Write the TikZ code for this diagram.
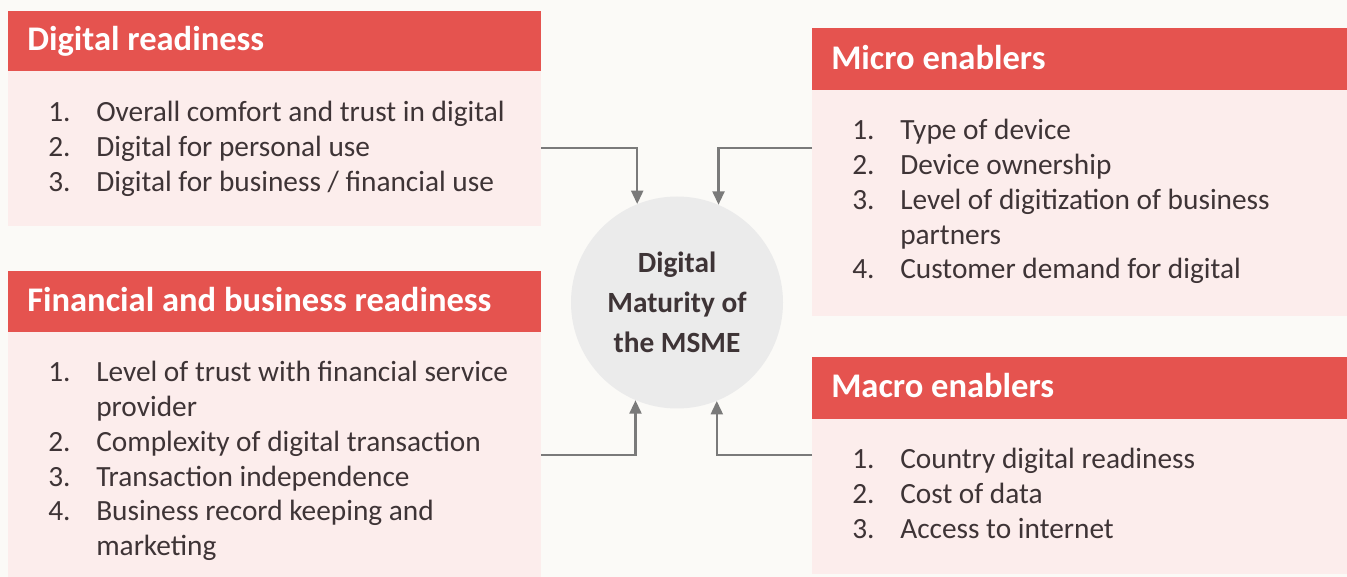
\documentclass[tikz,border=0pt]{standalone}
\usepackage{fontspec}
\setmainfont{Carlito}
\usetikzlibrary{arrows.meta}
\definecolor{bgc}{HTML}{FBFAF7}
\definecolor{hdrc}{HTML}{E5534F}
\definecolor{bodyc}{HTML}{FCEDEC}
\definecolor{txtc}{HTML}{3E3436}
\definecolor{circc}{HTML}{EBEBEB}
\definecolor{connc}{HTML}{7A7A7A}
\begin{document}
\begin{tikzpicture}[x=0.75pt,y=-0.75pt,
  hdrbox/.style={rectangle,fill=hdrc,draw=none,anchor=north west,inner sep=0pt},
  bodybox/.style={rectangle,fill=bodyc,draw=none,anchor=north west,inner sep=0pt},
  title/.style={anchor=base west,inner sep=0pt,text=white,font=\fontsize{25.9}{30}\selectfont\bfseries},
  item/.style={anchor=base west,inner sep=0pt,text=txtc,font=\fontsize{22}{26}\selectfont},
  conn/.style={draw=connc,line width=1.6pt,-{Triangle[width=9pt,length=10pt]}}
]
\useasboundingbox[fill=bgc] (0,0) rectangle (1347,577);

% Box 1
\node[hdrbox,minimum width=399.75pt,minimum height=45pt] (h1) at (8,11) {};
\node[bodybox,minimum width=399.75pt,minimum height=116.25pt] (b1) at (8,71) {};
\node[title] (t1) at (27,51) {Digital readiness};
\node[item] (n1a) at (48,122) {1.};
\node[item] (i1a) at (96,122) {Overall comfort and trust in digital};
\node[item] (n1b) at (48,156.7) {2.};
\node[item] (i1b) at (96,156.7) {Digital for personal use};
\node[item] (n1c) at (48,191.4) {3.};
\node[item] (i1c) at (96,191.4) {Digital for business / financial use};

% Box 2
\node[hdrbox,minimum width=399.75pt,minimum height=45.75pt] (h2) at (8,271) {};
\node[bodybox,minimum width=399.75pt,minimum height=183.75pt] (b2) at (8,332) {};
\node[title] (t2) at (27,312) {Financial and business readiness};
\node[item] (n2a) at (48,382) {1.};
\node[item] (i2a) at (96,382) {Level of trust with financial service};
\node[item] (i2a2) at (96,416.7) {provider};
\node[item] (n2b) at (48,451.4) {2.};
\node[item] (i2b) at (96,451.4) {Complexity of digital transaction};
\node[item] (n2c) at (48,486.1) {3.};
\node[item] (i2c) at (96,486.1) {Transaction independence};
\node[item] (n2d) at (48,520.8) {4.};
\node[item] (i2d) at (96,520.8) {Business record keeping and};
\node[item] (i2d2) at (96,555.5) {marketing};

% Box 3
\node[hdrbox,minimum width=401.25pt,minimum height=46.5pt] (h3) at (812,28) {};
\node[bodybox,minimum width=401.25pt,minimum height=169.5pt] (b3) at (812,90) {};
\node[title] (t3) at (831,70) {Micro enablers};
\node[item] (n3a) at (852,140) {1.};
\node[item] (i3a) at (900,140) {Type of device};
\node[item] (n3b) at (852,174.7) {2.};
\node[item] (i3b) at (900,174.7) {Device ownership};
\node[item] (n3c) at (852,209.4) {3.};
\node[item] (i3c) at (900,209.4) {Level of digitization of business};
\node[item] (i3c2) at (900,244.1) {partners};
\node[item] (n3d) at (852,278.8) {4.};
\node[item] (i3d) at (900,278.8) {Customer demand for digital};

% Box 4
\node[hdrbox,minimum width=401.25pt,minimum height=46.5pt] (h4) at (812,357) {};
\node[bodybox,minimum width=401.25pt,minimum height=116.25pt] (b4) at (812,419) {};
\node[title] (t4) at (831,398) {Macro enablers};
\node[item] (n4a) at (852,469) {1.};
\node[item] (i4a) at (900,469) {Country digital readiness};
\node[item] (n4b) at (852,503.7) {2.};
\node[item] (i4b) at (900,503.7) {Cost of data};
\node[item] (n4c) at (852,538.4) {3.};
\node[item] (i4c) at (900,538.4) {Access to internet};

% Centre circle
\node[circle,fill=circc,draw=none,minimum size=159pt,inner sep=0pt,align=center,
      text=txtc,font=\fontsize{22}{30}\selectfont\bfseries] (mat) at (677,302.5)
      {Digital\\Maturity of\\the MSME};

% Connectors
\coordinate (s1) at (541,148);
\coordinate (s2) at (541,455);
\coordinate (s3) at (812,148);
\coordinate (s4) at (812,455);
\draw[conn] (s1) -| (mat.112.75);
\draw[conn] (s3) -| (mat.67.25);
\draw[conn] (s2) -| (mat.247.25);
\draw[conn] (s4) -| (mat.292.75);
\end{tikzpicture}
\end{document}
